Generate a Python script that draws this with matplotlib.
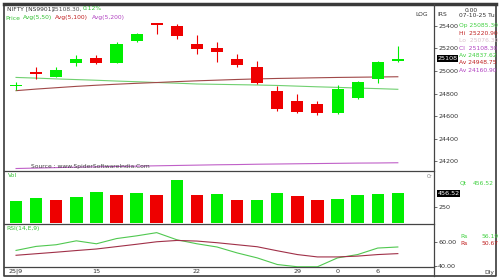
import numpy as np
import matplotlib
matplotlib.use('Agg')
import matplotlib.pyplot as plt

W, H = 500, 280

# NIFTY daily candles, 09-09-25 .. 07-10-25
opens = [24864, 24995, 24950, 25073, 25112, 25073, 25268, 25422, 25398, 25236,
         25201, 25106, 25038, 24826, 24737, 24705, 24631, 24764, 24927, 25085]
highs = [24900, 25038, 25038, 25142, 25142, 25259, 25340, 25425, 25416, 25319,
         25259, 25150, 25090, 24870, 24800, 24735, 24876, 24910, 25092, 25221]
lows = [24830, 24927, 24945, 25047, 25060, 25070, 25260, 25327, 25287, 25150,
        25080, 25038, 24885, 24646, 24628, 24610, 24620, 24750, 24892, 25076]
closes = [24869, 24973, 25010, 25106, 25069, 25239, 25330, 25404, 25312, 25195,
          25165, 25053, 24891, 24661, 24640, 24626, 24841, 24900, 25077, 25108]

# moving averages
avg50 = [24943, 24937, 24930, 24924, 24918, 24911, 24905, 24898, 24892, 24885,
         24882, 24879, 24876, 24872, 24866, 24860, 24855, 24849, 24844, 24838]
avg100 = [24826, 24840, 24852, 24864, 24874, 24883, 24891, 24898, 24906, 24913,
          24919, 24925, 24930, 24934, 24937, 24940, 24943, 24945, 24947, 24949]
avg200 = [24137, 24141, 24145, 24149, 24152, 24155, 24158, 24161, 24164, 24167,
          24170, 24172, 24175, 24177, 24179, 24181, 24183, 24185, 24186, 24188]

# volume
volume = [342, 383, 352, 404, 477, 425, 461, 425, 663, 425,
          446, 357, 352, 466, 415, 348, 363, 425, 441, 457]
vol_up = [1, 1, 0, 1, 1, 0, 1, 0, 1, 0, 1, 0, 1, 1, 0, 0, 1, 1, 1, 1]

# RSI(14) and its signal line
rsi = [53.3, 56.7, 58.1, 61.4, 58.9, 63.3, 65.6, 68.3, 62.3, 58.9,
       56.2, 51.2, 47.0, 41.4, 39.5, 39.5, 47.0, 49.8, 55.3, 56.2]
rsi_sig = [49.2, 50.5, 51.8, 53.2, 54.5, 56.5, 58.5, 60.6, 61.7, 61.2,
           59.8, 58.1, 56.4, 53.0, 49.8, 47.8, 47.8, 48.5, 49.8, 50.6]

date_pos = [0, 4, 9, 14, 16, 18]
date_labels = ['25|9', '15', '22', '29', '0', '6']
price_ticks = [24200, 24400, 24600, 24800, 25000, 25200, 25400]

GREEN = '#00ee00'
RED = '#ee0000'
TGREEN = '#30c030'
TRED = '#c02020'
TPURPLE = '#b040c0'
DARK = '#333333'
FS = 4.3

fig = plt.figure(figsize=(5, 2.8), dpi=100)
fig.patch.set_facecolor('white')


def rect(x0, y0, x1, y1):
    return [x0 / W, 1 - y1 / H, (x1 - x0) / W, (y1 - y0) / H]


def label(x, y, s, **kw):
    kw.setdefault('fontsize', FS)
    kw.setdefault('color', DARK)
    fig.text(x / W, 1 - y / H, s, va='center', **kw)


# frame lines
bg = fig.add_axes([0, 0, 1, 1])
bg.set_xlim(0, W)
bg.set_ylim(H, 0)
bg.axis('off')
bg.plot([4, 496], [3.5, 3.5], color='#3a3a3a', lw=2.5)
bg.plot([4, 4, 496, 496], [3.5, 276, 276, 3.5], color='#3a3a3a', lw=1.2)
bg.plot([434, 434], [3.5, 276], color='#444444', lw=0.9)
for yy in [171, 224, 267]:
    bg.plot([4, 434], [yy, yy], color='#444444', lw=0.9)

ax = fig.add_axes(rect(5, 5, 434, 171))
axv = fig.add_axes(rect(5, 171, 434, 224), sharex=ax)
axr = fig.add_axes(rect(5, 224, 434, 267), sharex=ax)
for a in (ax, axv, axr):
    a.set_facecolor('none')
    for s in a.spines.values():
        s.set_visible(False)
    a.yaxis.tick_right()
    a.tick_params(axis='y', length=2, width=0.5, pad=1, labelsize=4.6,
                  colors=DARK)
    a.tick_params(axis='x', length=0)

x = np.arange(len(closes))

# candles
for i in x:
    o, h, l, c = opens[i], highs[i], lows[i], closes[i]
    col = GREEN if c >= o else RED
    ax.vlines(i, l, h, color=col, lw=0.8, zorder=2)
    ax.bar(i, max(abs(c - o), 10), bottom=min(o, c), width=0.6,
           color=col, zorder=3)

ax.plot(x, avg50, color='#70d070', lw=0.8, zorder=1)
ax.plot(x, avg100, color='#a04848', lw=0.8, zorder=1)
ax.plot(x, avg200, color='#c060c8', lw=0.8, zorder=1)
ax.set_xlim(-0.55, 20.8)
ax.set_ylim(24115, 25584)
ax.set_yticks(price_ticks)
ax.set_yticklabels([str(p) for p in price_ticks])
ax.tick_params(axis='x', labelbottom=False)
ax.text(1.008, closes[-1], '25108', transform=ax.get_yaxis_transform(),
        fontsize=4.6, color='white', va='center', ha='left',
        bbox=dict(facecolor='black', edgecolor='none', pad=0.6))

# volume
axv.bar(x, volume, width=0.62, color=[GREEN if u else RED for u in vol_up])
axv.set_ylim(-20, 803)
axv.set_yticks([250])
axv.set_yticklabels(['250'])
axv.tick_params(axis='x', labelbottom=False)
axv.text(1.008, volume[-1], '456.52', transform=axv.get_yaxis_transform(),
         fontsize=4.6, color='white', va='center', ha='left',
         bbox=dict(facecolor='black', edgecolor='none', pad=0.6))

# RSI
axr.plot(x, rsi, color='#50c850', lw=0.8)
axr.plot(x, rsi_sig, color='#a03048', lw=0.8)
axr.set_ylim(39.3, 75.6)
axr.set_yticks([40, 60])
axr.set_yticklabels(['40.00', '60.00'])
axr.set_xticks(date_pos)
axr.set_xticklabels(date_labels)
axr.tick_params(axis='x', labelsize=4.6, pad=1.2, colors=DARK)

# header texts
label(7, 9, 'NIFTY [NS9901]')
label(52, 9, '25108.30,', color='#555555')
label(83, 9, '0.12%', color=TGREEN)
label(5, 18, 'Price', color=TGREEN)
label(23, 18, 'Avg(5,50)', color=TGREEN)
label(55, 18, 'Avg(5,100)', color=TRED)
label(92, 18, 'Avg(5,200)', color=TPURPLE)
label(31, 166.5, 'Source : www.SpiderSoftwareIndia.Com', color='#404040')
label(8, 175.5, 'Vol', color=TGREEN)
label(427, 176.5, 'Cr', color='#777777', fontsize=3.6)
label(6, 228.5, 'RSI(14,E,9)', color=TGREEN)

# right side info
label(471, 10, '0.00', ha='center')
label(422, 15, 'LOG', ha='center')
label(442, 15, 'IRS', ha='center')
label(459, 15.5, '07-10-25 Tu')
label(459, 25.7, 'Op 25085.30', color='#40d040')
label(459, 33.3, 'Hi  25220.90', color=TRED)
label(459, 40.7, 'Lo  25076.30', color='#dcc0cc')
label(459, 48.3, 'Cl  25108.30', color=TPURPLE)
label(459, 55.3, 'Av 24837.62', color='#40d040')
label(459, 62.7, 'Av 24948.75', color=TRED)
label(459, 70.7, 'Av 24160.90', color=TPURPLE)
label(460, 183.3, 'Qt', color='#40d040')
label(473, 183.3, '456.52', color='#40d040')
label(460, 237, 'Rs', color='#40d040')
label(481, 237, '56.19', color='#40d040')
label(460, 243.5, 'Rs', color=TRED)
label(481, 243.5, '50.67', color=TRED)
label(494, 272.5, 'Dly', ha='right')

fig.savefig('out.png', dpi=100, facecolor='white')
